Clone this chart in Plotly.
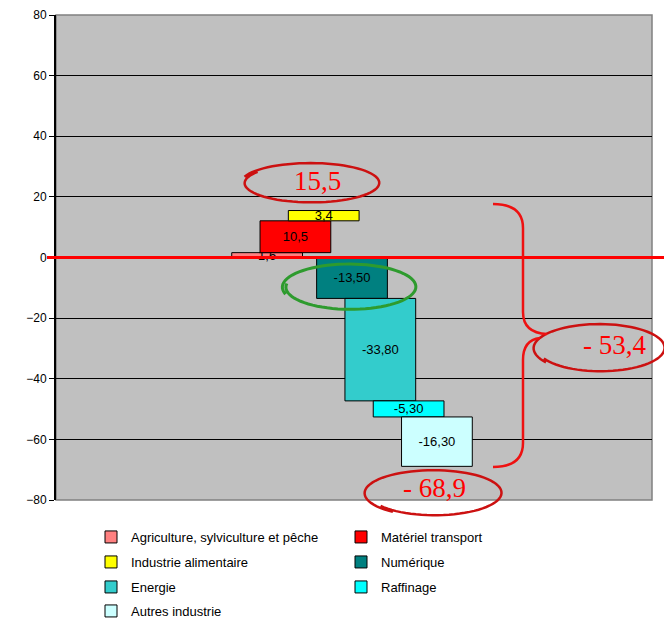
import numpy as np
import plotly.graph_objects as go

# Sector contributions (waterfall)
sectors = ["Agriculture, sylviculture et pêche", "Matériel transport",
           "Industrie alimentaire", "Numérique", "Energie", "Raffinage",
           "Autres industrie"]
values = [1.6, 10.5, 3.4, -13.5, -33.8, -5.3, -16.3]
labels = ["1,6", "10,5", "3,4", "-13,50", "-33,80", "-5,30", "-16,30"]
colors = ["#FF8080", "#FF0000", "#FFFF00", "#008080", "#33CCCC", "#00FFFF", "#CCFFFF"]
y_ticks = [-80, -60, -40, -20, 0, 20, 40, 60, 80]
total_pos = "15,5"
total_neg = "- 68,9"
diff_txt = "- 53,4"

W, H = 664, 619
L, R, T, B = 56, 12, 15, 119
pw, ph = W - L - R, H - T - B


def px(xp):
    return (xp - L) / pw


def py(yp):
    return (H - B - yp) / ph


# positive bars stack upward from 0, negative ones downward from 0
bases = []
pos_acc, neg_acc = 0.0, 0.0
for v in values:
    if v >= 0:
        bases.append(pos_acc)
        pos_acc += v
    else:
        bases.append(neg_acc)
        neg_acc += v

# two entries per legend row, one legend object per row
legend_ids = ["legend", "legend", "legend2", "legend2", "legend3", "legend3", "legend4"]
row_y = [537, 562, 587, 611]

fig = go.Figure()
for i, (name, v, b, lab, c) in enumerate(zip(sectors, values, bases, labels, colors)):
    fig.add_trace(go.Bar(
        x=[i], y=[v], base=[b], width=2.5, name=name, legend=legend_ids[i],
        marker=dict(color=c, line=dict(color="black", width=1)),
        text=[lab], textposition="inside", constraintext="none",
        insidetextanchor="middle",
        textfont=dict(family="Arial", size=13, color="black"),
        hoverinfo="skip",
    ))


def ellipse_path(cx, cy, rx, ry, start=0.3, sweep=2.25, grow=0.06):
    # slightly open, hand-drawn style loop
    t = np.linspace(start * np.pi, (start + sweep) * np.pi, 80)
    k = 1 + grow * (t - t[0]) / (t[-1] - t[0])
    xs = cx + rx * k * np.cos(t)
    ys = cy - ry * k * np.sin(t)
    pts = [f"{px(a):.5f},{py(b):.5f}" for a, b in zip(xs, ys)]
    return "M " + " L ".join(pts)


shapes = [
    # plot area frame
    dict(type="rect", xref="paper", yref="paper", x0=0, x1=1, y0=0, y1=1,
         line=dict(color="#808080", width=1.5), layer="below"),
    # zero line
    dict(type="line", xref="paper", yref="y", x0=px(47), x1=px(664), y0=0, y1=0,
         line=dict(color="#FF0000", width=3)),
    dict(type="path", xref="paper", yref="paper",
         path=ellipse_path(311, 183, 66, 19, start=0.8, sweep=2.1),
         line=dict(color="#CC1111", width=2.5)),
    dict(type="path", xref="paper", yref="paper",
         path=ellipse_path(350, 287, 64, 22, start=0.95, sweep=2.15),
         line=dict(color="#2E9B2E", width=3)),
    dict(type="path", xref="paper", yref="paper",
         path=ellipse_path(600, 348, 63, 23, start=1.15, sweep=2.05),
         line=dict(color="#CC1111", width=2.5)),
    dict(type="path", xref="paper", yref="paper",
         path=ellipse_path(434, 493, 66, 22, start=1.2, sweep=2.1),
         line=dict(color="#CC1111", width=2.5)),
]

# curly bracket grouping the negative contributions
br = [("M", 493, 204), ("Q", 523, 204, 523, 228), ("L", 523, 312),
      ("Q", 523, 333, 547, 334), ("M", 540, 338), ("Q", 523, 340, 523, 360),
      ("L", 523, 443), ("Q", 523, 467, 493, 467)]
segs = []
for cmd in br:
    c, *coords = cmd
    pts = [f"{px(coords[j]):.5f},{py(coords[j + 1]):.5f}" for j in range(0, len(coords), 2)]
    segs.append(c + " " + " ".join(pts))
shapes.append(dict(type="path", xref="paper", yref="paper", path=" ".join(segs),
                   line=dict(color="#EE1111", width=2.5)))

red_font = dict(family="Liberation Serif", size=27, color="#FF0000")
annotations = [
    dict(text=t, x=px(ax), y=py(ay), xref="paper", yref="paper",
         xanchor="center", yanchor="middle", showarrow=False, font=red_font)
    for t, ax, ay in [(total_pos, 317, 181), (diff_txt, 614, 345), (total_neg, 434, 488)]
]

legend_style = dict(orientation="h", x=px(91), xanchor="left", yanchor="middle",
                    entrywidth=205, bgcolor="rgba(0,0,0,0)",
                    font=dict(family="Arial", size=13, color="black"),
                    itemwidth=30, traceorder="normal")

fig.update_layout(
    width=W, height=H,
    margin=dict(l=L, r=R, t=T, b=B, autoexpand=False),
    paper_bgcolor="white", plot_bgcolor="#C0C0C0",
    barmode="overlay", showlegend=True,
    xaxis=dict(range=[-7.46, 13.6], visible=False, fixedrange=True),
    yaxis=dict(range=[-80, 80], tickvals=y_ticks, ticks="outside", ticklen=5,
               tickcolor="black", showline=True, linecolor="black", linewidth=2,
               showgrid=True, gridcolor="black", gridwidth=1, zeroline=False,
               tickfont=dict(family="Arial", size=12, color="black")),
    legend=dict(legend_style, y=py(row_y[0])),
    legend2=dict(legend_style, y=py(row_y[1])),
    legend3=dict(legend_style, y=py(row_y[2])),
    legend4=dict(legend_style, y=py(row_y[3])),
    shapes=shapes, annotations=annotations,
)

fig.write_html("out.html")
